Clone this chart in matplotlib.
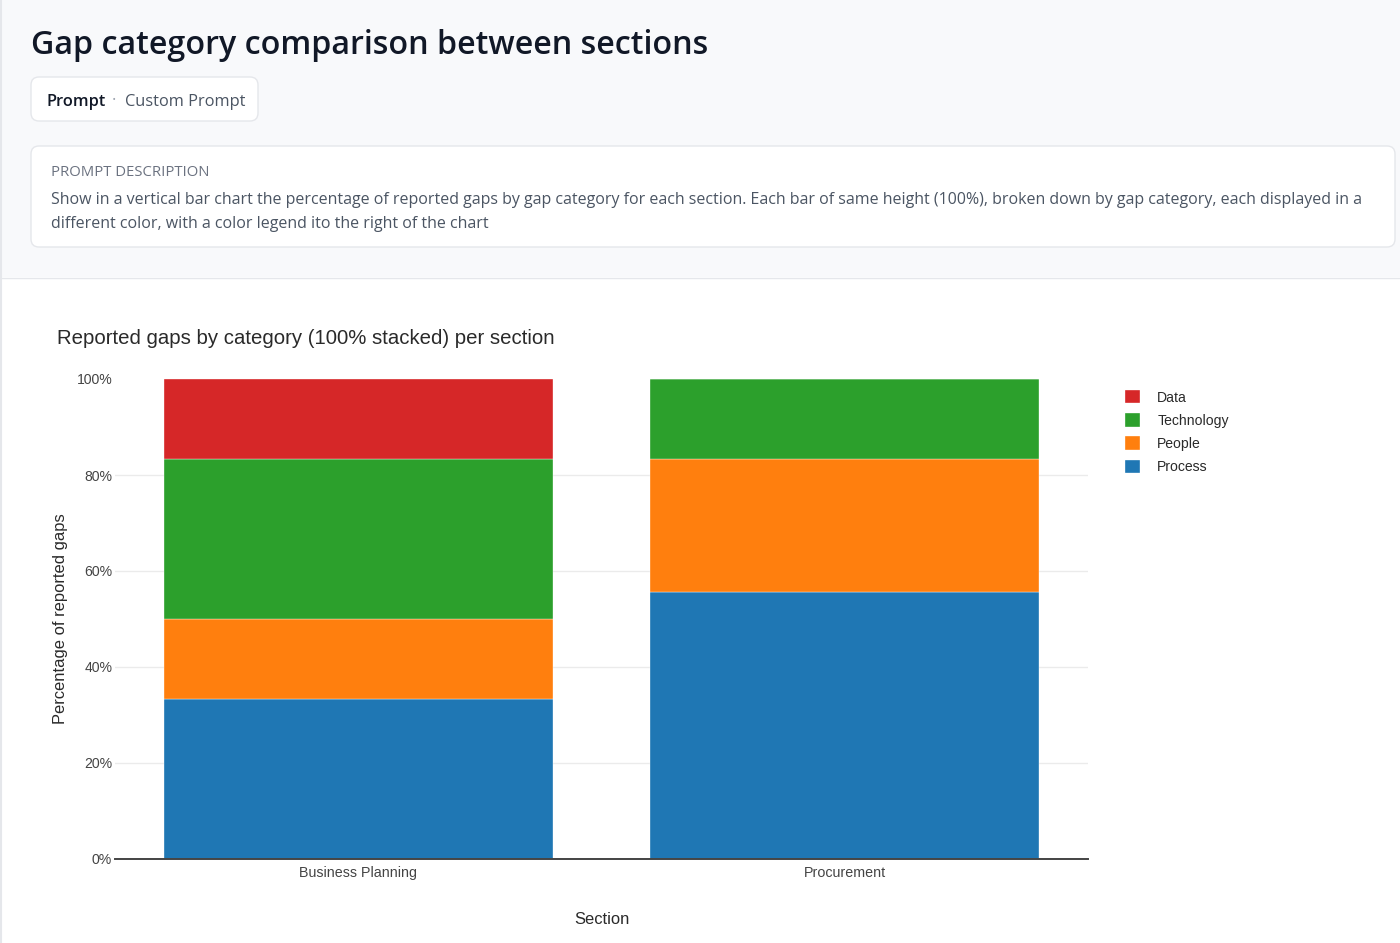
import numpy as np
import matplotlib
matplotlib.use("Agg")
import matplotlib.pyplot as plt
from matplotlib.patches import FancyBboxPatch, Rectangle

# data (percent of reported gaps per section)
sections = ["Business Planning", "Procurement"]
categories = ["Process", "People", "Technology", "Data"]
process = [33.33, 55.56]
people = [16.67, 27.78]
technology = [33.33, 16.67]
data = [16.67, 0.0]
colors = ["#1f77b4", "#ff7f0e", "#2ca02c", "#d62728"]
yticks = [0, 20, 40, 60, 80, 100]

W, H = 1400, 943
fig = plt.figure(figsize=(W / 100, H / 100), dpi=100)
fig.patch.set_facecolor("white")

# page header drawn in pixel coords on an overlay axes
hdr = fig.add_axes([0, 0, 1, 1], zorder=-1)
hdr.set_xlim(0, W); hdr.set_ylim(H, 0); hdr.axis("off")
hdr.add_patch(Rectangle((0, 0), W, 277, color="#f8f9fb", lw=0))
hdr.plot([0, W], [277.5, 277.5], color="#e5e7eb", lw=1)
hdr.plot([1, 1], [0, H], color="#e5e7eb", lw=1.5)

hfont = "Open Sans"
hdr.text(31, 46, "Gap category comparison between sections", fontsize=23.2,
         fontweight="semibold", family=hfont, color="#111827", va="center", ha="left")

hdr.add_patch(FancyBboxPatch((31, 77), 227, 44, boxstyle="round,pad=0,rounding_size=8",
                             fc="white", ec="#e5e7eb", lw=1))
hdr.text(46, 101.5, "Prompt", fontsize=11.8, fontweight="semibold", family=hfont,
         color="#111827", va="center")
hdr.text(112, 101.5, "·", fontsize=11.8, family=hfont, color="#9ca3af", va="center")
hdr.text(125, 101.5, "Custom Prompt", fontsize=11.8, family=hfont, color="#4b5563", va="center")

hdr.add_patch(FancyBboxPatch((31, 146), 1364, 101, boxstyle="round,pad=0,rounding_size=8",
                             fc="white", ec="#e5e7eb", lw=1))
hdr.text(51, 172, "PROMPT DESCRIPTION", fontsize=10.7, family=hfont, color="#6b7280",
         va="center")
desc = ("Show in a vertical bar chart the percentage of reported gaps by gap category for each "
        "section. Each bar of same height (100%), broken down by gap category, each displayed in a")
hdr.text(51, 200, desc, fontsize=11.55, family=hfont, color="#4b5563", va="center")
hdr.text(51, 224, "different color, with a color legend ito the right of the chart",
         fontsize=11.55, family=hfont, color="#4b5563", va="center")

# chart
cfont = "Liberation Sans"
ax = fig.add_axes([115 / W, 1 - 859 / H, (1088 - 115) / W, (859 - 379) / H])
x = np.arange(len(sections))
series = [process, people, technology, data]
bottom = np.zeros(len(sections))
handles = []
for name, vals, c in zip(categories, series, colors):
    b = ax.bar(x, vals, width=0.8, bottom=bottom, color=c, edgecolor="white",
               linewidth=0.25, label=name, zorder=3)
    handles.append(b)
    bottom += np.array(vals)

ax.set_xlim(-0.5, 1.5)
ax.set_ylim(0, 100)
ax.set_yticks(yticks)
ax.set_yticklabels([f"{t}%" for t in yticks])
ax.set_xticks(x)
ax.set_xticklabels(sections)
ax.grid(axis="y", color="#ebebeb", lw=1, zorder=0)
ax.yaxis.get_gridlines()[-1].set_visible(False)
for s in ["top", "right", "left"]:
    ax.spines[s].set_visible(False)
ax.spines["bottom"].set_color("#444444")
ax.spines["bottom"].set_linewidth(1.4)
ax.spines["bottom"].set_zorder(4)
ax.tick_params(axis="both", length=0, labelsize=10.1, labelcolor="#444444")
ax.tick_params(axis="y", pad=2)
ax.tick_params(axis="x", pad=5, labelsize=10.3)
for lab in ax.get_xticklabels() + ax.get_yticklabels():
    lab.set_family(cfont)

ax.set_ylabel("Percentage of reported gaps", family=cfont, fontsize=11.9,
              color="#2a2a2a", labelpad=6)
ax.set_xlabel("Section", family=cfont, fontsize=11.9, color="#2a2a2a", labelpad=23)

fig.text(57 / W, 1 - 338 / H, "Reported gaps by category (100% stacked) per section",
         family=cfont, fontsize=14.65, color="#2a2a2a", va="center", ha="left")

leg = ax.legend(handles[::-1], categories[::-1], loc="upper left",
                bbox_to_anchor=(1125 / W, 1 - 390 / H), bbox_transform=fig.transFigure,
                frameon=False, borderpad=0, borderaxespad=0, handlelength=1.1,
                handleheight=1.1, handletextpad=1.2, labelspacing=0.62,
                prop={"family": cfont, "size": 10.1})
for t in leg.get_texts():
    t.set_color("#2a2a2a")

fig.savefig("out.png", dpi=100, facecolor="white")
